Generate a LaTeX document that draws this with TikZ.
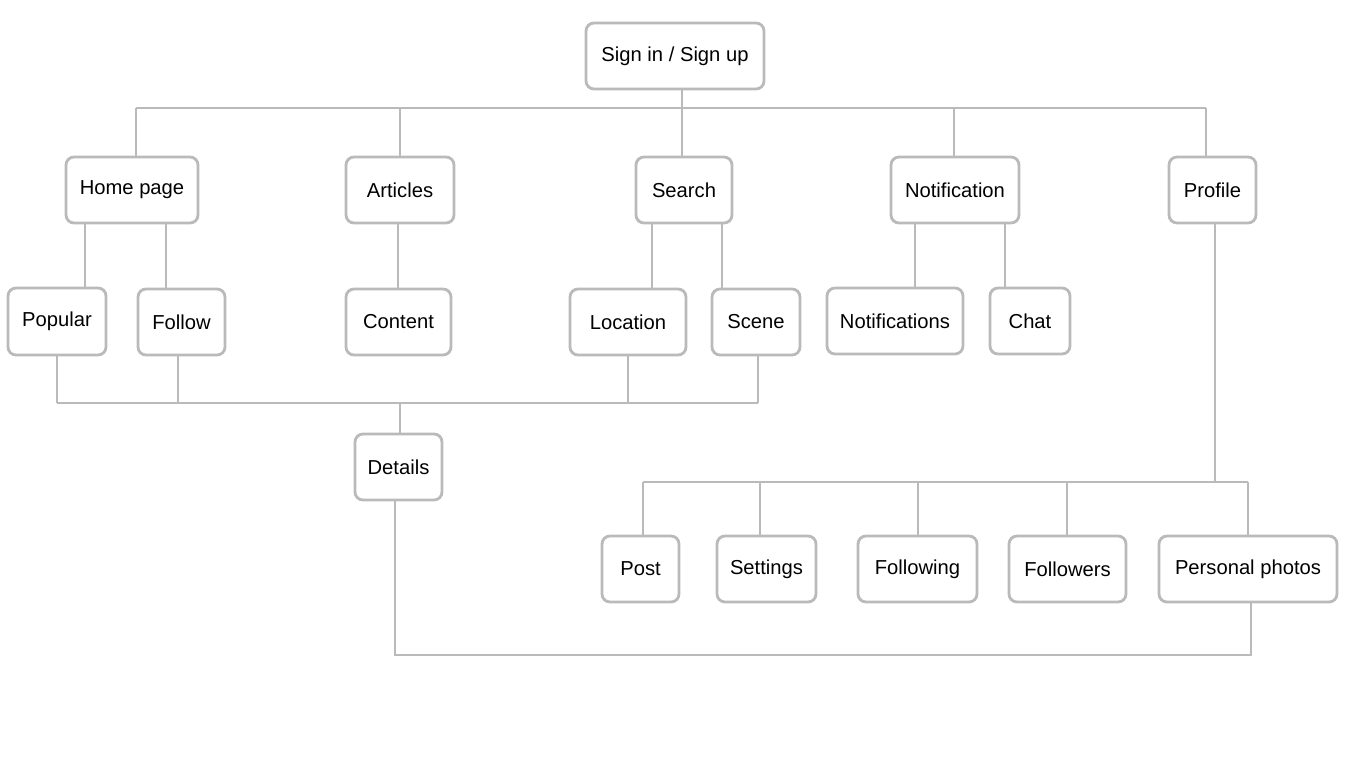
\documentclass[tikz,border=0pt]{standalone}
\usepackage{fontspec}
\setmainfont{Liberation Sans}
\definecolor{linegray}{HTML}{BABABA}
\tikzset{
  box/.style={draw=linegray, line width=2.8pt, rounded corners=8pt, fill=white, inner sep=0pt,
    font=\fontsize{20.2}{24}\selectfont, text=black},
  conn/.style={draw=linegray, line width=2.8pt},
}
\newcommand\vlink[3]{\draw[conn] ([xshift=#3]#1.south) -- ([xshift=#3]#1.south |- #2.north);}
\begin{document}
\begin{tikzpicture}[x=1pt,y=-1pt]
\useasboundingbox (0,0) rectangle (1366,768);
% bus coordinates
\coordinate (tb1) at (136,108);
\coordinate (tb2) at (1206,108);
\coordinate (mb1) at (57,403);
\coordinate (mb2) at (758,403);
\coordinate (pb1) at (643,482);
\coordinate (pb2) at (1248,482);
\coordinate (loop) at (1251,655);
% connectors (drawn first, boxes on top)
\draw[conn] (tb1) -- (tb2);
\draw[conn] (mb1) -- (mb2);
\draw[conn] (pb1) -- (pb2);
% nodes
\node[box, minimum width=178pt, minimum height=66pt] (signin) at (675,56) {Sign in / Sign up};
\node[box, minimum width=132pt, minimum height=66pt] (home) at (132,190) {Home page};
\node[box, minimum width=108pt, minimum height=66pt] (articles) at (400,190) {Articles};
\node[box, minimum width=96pt, minimum height=66pt] (search) at (684,190) {Search};
\node[box, minimum width=128pt, minimum height=66pt] (notif) at (955,190) {Notification};
\node[box, minimum width=87pt, minimum height=66pt] (profile) at (1212.5,190) {Profile};
\node[box, minimum width=98pt, minimum height=67pt] (popular) at (57,321.5) {Popular};
\node[box, minimum width=87pt, minimum height=66pt] (follow) at (181.5,322) {Follow};
\node[box, minimum width=105pt, minimum height=66pt] (content) at (398.5,322) {Content};
\node[box, minimum width=116pt, minimum height=66pt] (location) at (628,322) {Location};
\node[box, minimum width=88pt, minimum height=66pt] (scene) at (756,322) {Scene};
\node[box, minimum width=136pt, minimum height=66pt] (notifs) at (895,321) {Notifications};
\node[box, minimum width=80pt, minimum height=66pt] (chat) at (1030,321) {Chat};
\node[box, minimum width=87pt, minimum height=66pt] (details) at (398.5,467) {Details};
\node[box, minimum width=77pt, minimum height=66pt] (post) at (640.5,569) {Post};
\node[box, minimum width=99pt, minimum height=66pt] (settings) at (766.5,569) {Settings};
\node[box, minimum width=119pt, minimum height=66pt] (following) at (917.5,569) {Following};
\node[box, minimum width=117pt, minimum height=66pt] (followers) at (1067.5,569) {Followers};
\node[box, minimum width=178pt, minimum height=66pt] (photos) at (1248,569) {Personal photos};
% top tree
\draw[conn] ([xshift=7pt]signin.south) -- ([xshift=7pt]signin.south |- tb1);
\draw[conn] (tb1) -- (tb1 |- home.north);
\draw[conn] (articles.north |- tb1) -- (articles.north);
\draw[conn] ([xshift=-2pt]search.north |- tb1) -- ([xshift=-2pt]search.north);
\draw[conn] ([xshift=-1pt]notif.north |- tb1) -- ([xshift=-1pt]notif.north);
\draw[conn] (tb2) -- (tb2 |- profile.north);
% second level
\vlink{home}{popular}{-47pt}
\vlink{home}{follow}{34pt}
\vlink{articles}{content}{-2pt}
\vlink{search}{location}{-32pt}
\vlink{search}{scene}{38pt}
\vlink{notif}{notifs}{-40pt}
\vlink{notif}{chat}{50pt}
% middle bus
\draw[conn] (popular.south) -- (popular.south |- mb1);
\draw[conn] ([xshift=-3.5pt]follow.south) -- ([xshift=-3.5pt]follow.south |- mb1);
\draw[conn] (location.south) -- (location.south |- mb1);
\draw[conn] ([xshift=2pt]scene.south) -- ([xshift=2pt]scene.south |- mb1);
\draw[conn] ([xshift=1.5pt]details.north |- mb1) -- ([xshift=1.5pt]details.north);
% profile bus
\draw[conn] ([xshift=2.5pt]profile.south) -- ([xshift=2.5pt]profile.south |- pb1);
\draw[conn] (pb1) -- (pb1 |- post.north);
\draw[conn] ([xshift=-6.5pt]settings.north |- pb1) -- ([xshift=-6.5pt]settings.north);
\draw[conn] ([xshift=0.5pt]following.north |- pb1) -- ([xshift=0.5pt]following.north);
\draw[conn] ([xshift=-0.5pt]followers.north |- pb1) -- ([xshift=-0.5pt]followers.north);
\draw[conn] (pb2) -- (pb2 |- photos.north);
% bottom loop
\draw[conn] ([xshift=-3.5pt]details.south) |- (loop) -- (loop |- photos.south);
\end{tikzpicture}
\end{document}
